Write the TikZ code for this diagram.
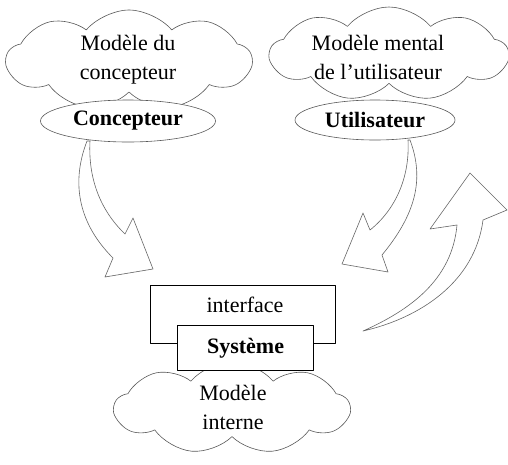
\documentclass[tikz,border=0pt]{standalone}
\usepackage{fontspec}
\setmainfont{Liberation Serif}
\usetikzlibrary{shapes.symbols,shapes.geometric}
\begin{document}
\begin{tikzpicture}[x=1pt, y=-1pt, line join=round,
    font=\fontsize{22}{29}\selectfont,
    nuage/.style={cloud, cloud puffs=9, cloud puff arc=100, draw=black!65, line width=0.6pt, fill=white},
    acteur/.style={ellipse, draw=black!65, line width=0.6pt, fill=white, inner sep=0pt, font=\fontsize{22}{29}\selectfont\bfseries},
    boite/.style={rectangle, draw=black, line width=1.1pt, fill=white, inner sep=0pt},
    fleche/.style={draw=black!60, line width=0.6pt, fill=white}]
    \useasboundingbox (0,0) rectangle (508,464);
    % nuages et acteurs
    \node[nuage, minimum width=245pt, minimum height=100pt] (nconc) at (129,60) {};
    \node[align=center] (tconc) at (128,60) {Mod\`ele du\\concepteur};
    \node[acteur, minimum width=175pt, minimum height=42pt] (conc) at (128,121) {Concepteur};
    \node[nuage, minimum width=238pt, minimum height=94pt] (nutil) at (389,54) {};
    \node[align=center] (tutil) at (378,57) {Mod\`ele mental\\de l'utilisateur};
    \node[acteur, minimum width=160pt, minimum height=40pt] (util) at (375,120) {Utilisateur};
    % systeme
    \node[nuage, minimum width=235pt, minimum height=92pt] (nsys) at (232,408) {};
    \node[align=center] (tsys) at (233,407) {Mod\`ele\\interne};
    \node[boite, minimum width=185pt, minimum height=58pt, anchor=north west] (inter) at (150,285) {};
    \node (tinter) at (245,305) {interface};
    \node[boite, minimum width=136pt, minimum height=45pt, anchor=north west, font=\fontsize{22}{29}\selectfont\bfseries] (sys) at (177,325) {Syst\`eme};
    % fleches
    \draw[fleche] (87,141) .. controls (70,185) and (80,225) .. (113,258) -- (105,277) -- (153,269)
        -- (133,218) -- (125,234) .. controls (100,210) and (88,178) .. (90,141) -- cycle;
    \draw[fleche] (410,140) .. controls (425,180) and (415,215) .. (382,255) -- (388,272) -- (342,264)
        -- (363,213) -- (370,230) .. controls (395,210) and (410,178) .. (408,140) -- cycle;
    \draw[fleche] (363,331) .. controls (420,318) and (475,282) .. (483,220) -- (507,210) -- (470,173)
        -- (430,229) -- (457,225) .. controls (452,280) and (410,310) .. (363,331) -- cycle;
\end{tikzpicture}
\end{document}
